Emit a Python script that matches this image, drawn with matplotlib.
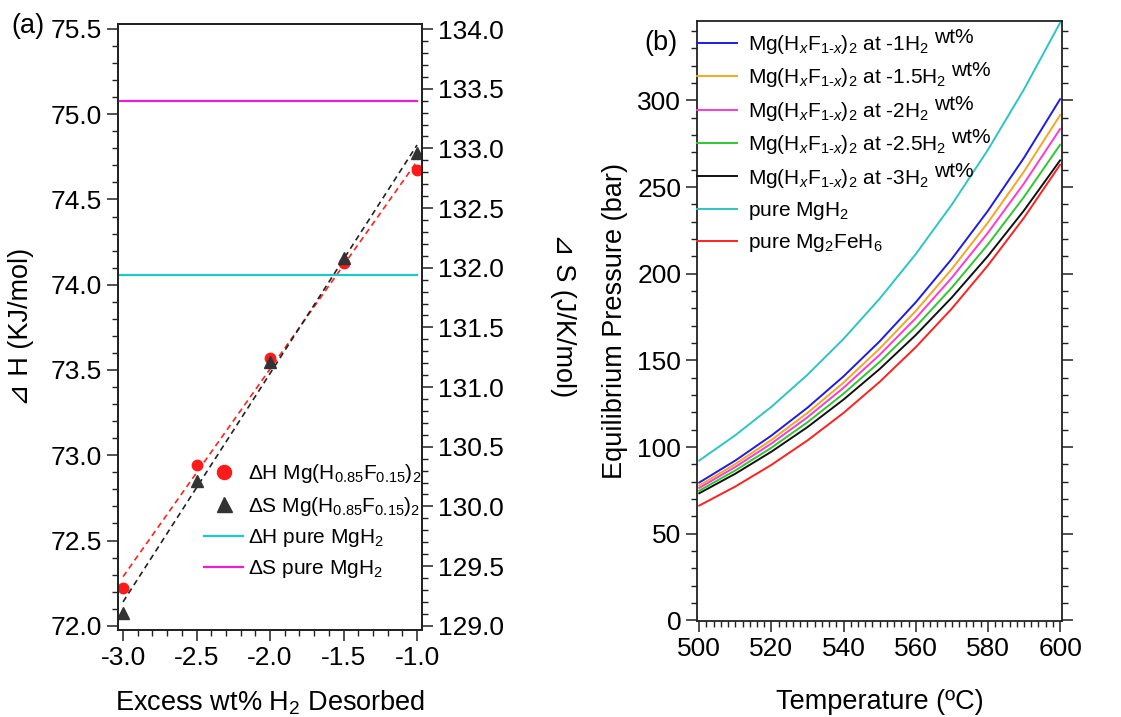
import matplotlib
matplotlib.use('Agg')
import matplotlib.pyplot as plt
from matplotlib.ticker import MultipleLocator
from matplotlib.transforms import IdentityTransform
import numpy as np

plt.rcParams['font.family'] = ['Liberation Sans', 'DejaVu Sans']
plt.rcParams['mathtext.fontset'] = 'custom'
plt.rcParams['mathtext.rm'] = 'Liberation Sans'
plt.rcParams['mathtext.it'] = 'Liberation Sans:italic'
plt.rcParams['mathtext.bf'] = 'Liberation Sans:bold'
plt.rcParams['axes.unicode_minus'] = False

# (a) reaction enthalpy / entropy vs excess H2 desorbed
excess_wt = [-3.0, -2.5, -2.0, -1.5, -1.0]
dH_mix = [72.22, 72.94, 73.57, 74.13, 74.67]
dS_mix = [129.11, 130.21, 131.21, 132.08, 132.96]
dH_pure = 74.06
dS_pure = 133.40
pure_span = [-3.05, -1.0]

# (b) equilibrium pressure (bar) vs temperature (C)
temp_c = [500, 510, 520, 530, 540, 550, 560, 570, 580, 590, 600]
p_1 = [79.5, 92.2, 106.6, 122.7, 140.8, 161.0, 183.5, 208.6, 236.3, 266.9, 300.7]
p_15 = [77.8, 90.2, 104.1, 119.7, 137.2, 156.8, 178.5, 202.7, 229.5, 259.0, 291.5]
p_2 = [76.4, 88.5, 102.0, 117.2, 134.2, 153.2, 174.3, 197.7, 223.6, 252.1, 283.5]
p_25 = [74.8, 86.5, 99.6, 114.3, 130.8, 149.1, 169.4, 192.0, 216.9, 244.3, 274.4]
p_3 = [73.3, 84.6, 97.3, 111.5, 127.4, 145.0, 164.6, 186.3, 210.2, 236.5, 265.4]
p_mgh2 = [92.2, 106.8, 123.2, 141.7, 162.4, 185.6, 211.3, 239.9, 271.5, 306.4, 344.8]
p_mg2feh6 = [66.2, 77.2, 89.7, 103.8, 119.7, 137.6, 157.6, 179.9, 204.8, 232.3, 262.9]

mix = r'Mg(H$_x$F$_{\mathrm{1\text{-}}x}$)$_2$ at '
curves = [
    (p_1, '#1c1ce6', mix + r'-1H$_2$'),
    (p_15, '#f5a623', mix + r'-1.5H$_2$'),
    (p_2, '#ff3ad2', mix + r'-2H$_2$'),
    (p_25, '#2ec82e', mix + r'-2.5H$_2$'),
    (p_3, '#111111', mix + r'-3H$_2$'),
    (p_mgh2, '#2ec4c4', r'pure MgH$_2$'),
    (p_mg2feh6, '#ff2020', r'pure Mg$_2$FeH$_6$'),
]

TICK_FS = 19
LABEL_FS = 19.5
LEG_FS = 15
SPINE = '#222222'


def style_axes(ax):
    for s in ax.spines.values():
        s.set_color(SPINE)
        s.set_linewidth(1.3)
    ax.tick_params(which='both', direction='out', colors=SPINE, labelcolor='black',
                   labelsize=TICK_FS, top=False)
    ax.tick_params(which='major', length=8, width=1.1)
    ax.tick_params(which='minor', length=4.5, width=1.0)


fig = plt.figure(figsize=(11.21, 7.17), dpi=100)

# ---- panel (a)
ax_a = fig.add_axes([0.1053, 0.1213, 0.2712, 0.8452])
ax_s = ax_a.twinx()

ax_a.set_xlim(-3.034, -0.966)
ax_a.set_ylim(71.975, 75.529)
ax_s.set_ylim(128.964, 134.042)

xs = np.array([excess_wt[0], excess_wt[-1]])
fit_h = np.polyfit(excess_wt, dH_mix, 1)
fit_s = np.polyfit(excess_wt, dS_mix, 1)

ax_a.plot(xs, np.polyval(fit_h, xs), color='#ff2020', lw=1.2, ls=(0, (3.5, 2.5)))
h_pure, = ax_a.plot(pure_span, [dH_pure, dH_pure], color='#1fc8c8', lw=1.6,
                    label=r'$\Delta$H pure MgH$_2$')
h_mix, = ax_a.plot(excess_wt, dH_mix, 'o', color='#ff1a1a', ms=7.5,
                   label=r'$\Delta$H Mg(H$_{0.85}$F$_{0.15}$)$_2$')

ax_s.plot(xs, np.polyval(fit_s, xs), color='#222222', lw=1.2, ls=(0, (3.5, 2.5)))
s_pure, = ax_s.plot(pure_span, [dS_pure, dS_pure], color='#e81ed8', lw=1.6,
                    label=r'$\Delta$S pure MgH$_2$')
s_mix, = ax_s.plot(excess_wt, dS_mix, '^', color='#333333', ms=8,
                   label=r'$\Delta$S Mg(H$_{0.85}$F$_{0.15}$)$_2$')

ax_a.xaxis.set_major_locator(MultipleLocator(0.5))
ax_a.xaxis.set_minor_locator(MultipleLocator(0.1))
ax_a.yaxis.set_major_locator(MultipleLocator(0.5))
ax_a.yaxis.set_minor_locator(MultipleLocator(0.1))
ax_s.yaxis.set_major_locator(MultipleLocator(0.5))
ax_s.yaxis.set_minor_locator(MultipleLocator(0.1))
ax_a.xaxis.set_major_formatter('{x:.1f}')
ax_a.yaxis.set_major_formatter('{x:.1f}')
ax_s.yaxis.set_major_formatter('{x:.1f}')
style_axes(ax_a)
style_axes(ax_s)
ax_a.tick_params(right=False)

ax_a.set_xlabel(r'Excess wt% H$_2$ Desorbed', fontsize=LABEL_FS)
ax_a.xaxis.set_label_coords(0.5, -0.097)
ax_a.set_ylabel('\u22bf H (KJ/mol)', fontsize=LABEL_FS)
ax_a.yaxis.set_label_coords(-0.275, 0.5)
ax_s.set_ylabel('\u22bf S (J/K/mol)', fontsize=LABEL_FS, rotation=270, va='center')
ax_s.yaxis.set_label_coords(1.464, 0.52)

leg_a = ax_s.legend(handles=[h_mix, s_mix, h_pure, s_pure], loc='lower right',
                    bbox_to_anchor=(1.012, 0.075), frameon=False, fontsize=LEG_FS,
                    handlelength=1.85, handletextpad=0.25, labelspacing=0.45,
                    borderpad=0.2, borderaxespad=0, markerscale=1.35)

fig.text(0.025, 0.964, '(a)', fontsize=LABEL_FS, ha='center', va='center')

# ---- panel (b)
ax_b = fig.add_axes([0.622, 0.1339, 0.3251, 0.8372])
line_handles = []
for vals, col, lab in curves:
    h, = ax_b.plot(temp_c, vals, color=col, lw=1.4, label=lab)
    line_handles.append(h)

ax_b.set_xlim(499.45, 600.45)
ax_b.set_ylim(-0.4, 346)
ax_b.xaxis.set_major_locator(MultipleLocator(20))
ax_b.xaxis.set_minor_locator(MultipleLocator(2))
ax_b.yaxis.set_major_locator(MultipleLocator(50))
ax_b.yaxis.set_minor_locator(MultipleLocator(10))
style_axes(ax_b)
ax_b.tick_params(which='both', right=True)

ax_b.set_xlabel('Temperature (\u00baC)', fontsize=LABEL_FS)
ax_b.xaxis.set_label_coords(0.5, -0.113)
ax_b.set_ylabel('Equilibrium Pressure (bar)', fontsize=LABEL_FS)
ax_b.yaxis.set_label_coords(-0.19, 0.5)

leg_b = ax_b.legend(handles=line_handles, loc='upper left', bbox_to_anchor=(-0.017, 0.99),
                    frameon=False, fontsize=LEG_FS, handlelength=1.92, handletextpad=0.5,
                    labelspacing=0.5, borderpad=0.3, borderaxespad=0)

fig.text(0.5895, 0.94, '(b)', fontsize=LABEL_FS, ha='center', va='center')

# raised "wt%" after each mixed-hydride entry
fig.canvas.draw()
for t in leg_b.get_texts()[:5]:
    bb = t.get_window_extent()
    fig.text(bb.x1 + 5, bb.y0 + 9, 'wt%', fontsize=LEG_FS, transform=IdentityTransform(),
             ha='left', va='bottom')

fig.savefig('out.png', dpi=100)
